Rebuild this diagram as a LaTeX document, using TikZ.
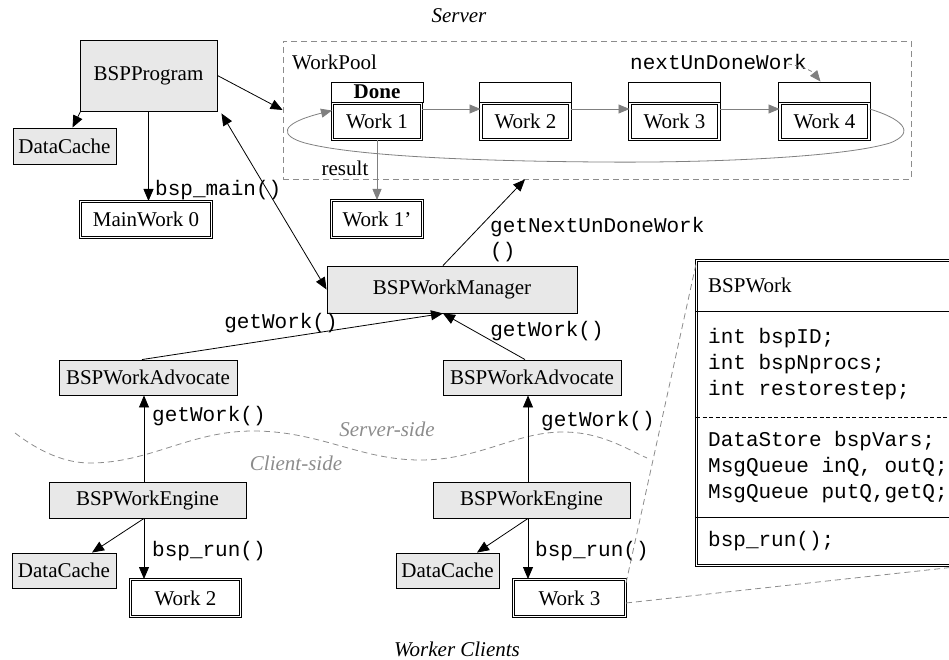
\documentclass[tikz,border=0pt]{standalone}
\usepackage{fontspec}
\setmainfont{Liberation Serif}
\setmonofont{Liberation Mono}
\usetikzlibrary{arrows.meta,calc}
\definecolor{boxfill}{RGB}{232,232,232}
\definecolor{linegray}{RGB}{128,128,128}
\definecolor{dashgray}{RGB}{140,140,140}

\begin{document}
\begin{tikzpicture}[x=1pt,y=-1pt,
  every node/.style={font=\fontsize{21}{25}\selectfont, inner sep=0pt},
  code/.style={font=\fontsize{21}{25}\selectfont\ttfamily},
  title/.style={font=\fontsize{21}{25}\selectfont\itshape},
  sidelabel/.style={font=\fontsize{21}{25}\selectfont\itshape, text=dashgray},
  cls/.style={draw, fill=boxfill, line width=0.9pt},
  wbox/.style={draw, fill=white, double, double distance=1.4pt, line width=1pt},
  hdr/.style={draw, fill=white, line width=0.9pt, minimum width=92pt, minimum height=20pt},
  pbody/.style={wbox, minimum width=89pt, minimum height=36pt},
  arr/.style={line width=0.8pt, -{Triangle[length=12pt,width=10pt]}},
  biarr/.style={line width=0.8pt, {Triangle[length=12pt,width=10pt]}-{Triangle[length=12pt,width=10pt]}},
  garr/.style={draw=linegray, line width=0.8pt, -{Triangle[length=11pt,width=9pt]}},
  gdash/.style={draw=dashgray, line width=0.8pt, dash pattern=on 6pt off 4pt},
]
\useasboundingbox (0,0) rectangle (949,660);
\clip (0,0) rectangle (949,660);

% section titles
\node[title, anchor=base] (tServer) at (459,23) {Server};
\node[title, anchor=base] (tWorkers) at (457,656) {Worker Clients};

% work pool frame and its queue of work items
\node[gdash, minimum width=628pt, minimum height=138pt] (pool) at (597,110) {};
\node[anchor=west] (poolname) at (292,62) {WorkPool};

\node[pbody] (w1) at (377,121.5) {Work 1};
\node[hdr] (w1h) at (377,92) {\textbf{Done}};
\node[pbody] (w2) at (525.5,121.5) {Work 2};
\node[hdr] (w2h) at (525.5,92) {};
\node[pbody] (w3) at (674.5,121.5) {Work 3};
\node[hdr] (w3h) at (674.5,92) {};
\node[pbody] (w4) at (824.5,121.5) {Work 4};
\node[hdr] (w4h) at (824.5,92) {};

\draw[garr] ([yshift=12.5pt]w1.east) -- ([yshift=12.5pt]w2.west);
\draw[garr] ([yshift=12.5pt]w2.east) -- ([yshift=12.5pt]w3.west);
\draw[garr] ([yshift=12.5pt]w3.east) -- ([yshift=12.5pt]w4.west);
\draw[garr] ([yshift=12.5pt]w4.east)
  .. controls (900,118) and (918,132) .. (890,143)
  .. controls (840,158) and (700,163) .. (600,162)
  .. controls (460,161) and (350,155) .. (305,143)
  .. controls (280,136) and (278,124) .. ([yshift=11pt]w1.west);

\node[code, anchor=west] (nextlbl) at (630,62) {nextUnDoneWork};
\draw[draw=linegray, line width=0.8pt, dash pattern=on 4pt off 3pt, -{Triangle[length=11pt,width=9pt]}]
  (788,64) .. controls (802,66) and (812,71) .. ([xshift=-4pt]w4h.north);

% result of the finished work
\node[wbox, minimum width=91pt, minimum height=37pt] (w1r) at (377,219) {Work 1'};
\draw[garr] (w1.south) -- (w1r.north);
\node (resultlbl) at (345,168) {result};

% server program
\node[cls, minimum width=137pt, minimum height=71pt] (prog) at (148.5,75.5) {BSPProgram};
\node[cls, minimum width=103pt, minimum height=36pt] (dcTop) at (64.5,146) {DataCache};
\node[wbox, minimum width=131pt, minimum height=36pt] (mw0) at (146,219.5) {MainWork 0};

\draw[arr] (prog.east) -- (pool.west);
\draw[arr] ([xshift=1pt]prog.south west) -- ([xshift=8pt]dcTop.north);
\draw[arr] (prog.south) -- (prog.south |- mw0.north);
\node[code, anchor=west] (mainlbl) at (155,190) {bsp\_main()};

% work manager
\node[cls, minimum width=250pt, minimum height=47pt] (mgr) at (452,289.5) {BSPWorkManager};
\draw[biarr] ([shift={(4,2)}]prog.south east) -- (mgr.west);
\draw[arr] ([xshift=-9pt]mgr.north) -- ([xshift=-72pt]pool.south);
\node[code, anchor=west, align=left] (nextcall) at (490,239.5) {getNextUnDoneWork\\()};

% advocates
\node[cls, minimum width=178pt, minimum height=35pt] (advL) at (148,377.5) {BSPWorkAdvocate};
\node[cls, minimum width=178pt, minimum height=35pt] (advR) at (532,377.5) {BSPWorkAdvocate};
\draw[arr] ([xshift=-6pt]advL.north) -- ([xshift=-9pt]mgr.south);
\draw[arr] ([xshift=-7pt]advR.north) -- ([xshift=-9pt]mgr.south);
\node[code] (gwL) at (281,323) {getWork()};
\node[code] (gwR) at (547,331) {getWork()};

% server / client boundary
\draw[gdash] (15,433) .. controls (40,452) and (65,463) .. (90,463)
  .. controls (150,463) and (190,431) .. (253,431)
  .. controls (320,431) and (360,460) .. (420,460)
  .. controls (480,460) and (515,432) .. (563,432)
  .. controls (600,432) and (625,448) .. (647,458);
\node[sidelabel] (srvside) at (387,429) {Server-side};
\node[sidelabel] (cliside) at (296,463) {Client-side};

% engines
\node[cls, minimum width=197pt, minimum height=36pt] (engL) at (147.5,500) {BSPWorkEngine};
\node[cls, minimum width=197pt, minimum height=36pt] (engR) at (531.5,500) {BSPWorkEngine};
\draw[arr] ([xshift=-3.5pt]engL.north) -- ([xshift=-3.5pt]engL.north |- advL.south);
\draw[arr] ([xshift=-3.5pt]engR.north) -- ([xshift=-3.5pt]engR.north |- advR.south);
\node[code, anchor=west] (gwEL) at (152,416) {getWork()};
\node[code, anchor=west] (gwER) at (541,421) {getWork()};

% client caches and works
\node[cls, minimum width=104pt, minimum height=35pt] (dcL) at (64,570.5) {DataCache};
\node[cls, minimum width=103pt, minimum height=35pt] (dcR) at (447.5,570.5) {DataCache};
\node[wbox, minimum width=110pt, minimum height=37pt] (wk2) at (185.5,598) {Work 2};
\node[wbox, minimum width=112pt, minimum height=37pt] (wk3) at (569.5,598) {Work 3};

\draw[arr] ([xshift=-3.5pt]engL.south) -- ([xshift=28pt]dcL.north);
\draw[arr] ([xshift=-3.5pt]engL.south) -- ([xshift=-3.5pt]engL.south |- wk2.north);
\draw[arr] ([xshift=-3.5pt]engR.south) -- ([xshift=29.5pt]dcR.north);
\draw[arr] ([xshift=-3.5pt]engR.south) -- ([xshift=-3.5pt]engR.south |- wk3.north);
\node[code, anchor=west] (runL) at (152,551) {bsp\_run()};
\node[code, anchor=west] (runR) at (535,551) {bsp\_run()};

% class detail of a work item
\node[wbox, minimum width=267pt, minimum height=305pt] (bspwork) at (830,413) {};
\draw[line width=0.9pt] (bspwork.west |- 0,311) -- (bspwork.east |- 0,311);
\draw[line width=0.9pt, dash pattern=on 4pt off 2.5pt] (bspwork.west |- 0,417) -- (bspwork.east |- 0,417);
\draw[line width=0.9pt] (bspwork.west |- 0,517) -- (bspwork.east |- 0,517);
\node[anchor=base west] (bwTitle) at (708,292) {BSPWork};
\node[code, anchor=base west] (bw1) at (708,343) {int bspID;};
\node[code, anchor=base west] (bw2) at (708,369) {int bspNprocs;};
\node[code, anchor=base west] (bw3) at (708,395) {int restorestep;};
\node[code, anchor=base west] (bw4) at (708,446) {DataStore bspVars;};
\node[code, anchor=base west] (bw5) at (708,472) {MsgQueue inQ, outQ;};
\node[code, anchor=base west] (bw6) at (708,498) {MsgQueue putQ,getQ;};
\node[code, anchor=base west] (bw7) at (708,546) {bsp\_run();};

\draw[gdash] ([yshift=-4pt]wk3.north east) -- ([yshift=-4pt]bspwork.north west);
\draw[gdash] ([yshift=-5pt]wk3.east) -- (bspwork.south east);
\end{tikzpicture}
\end{document}
